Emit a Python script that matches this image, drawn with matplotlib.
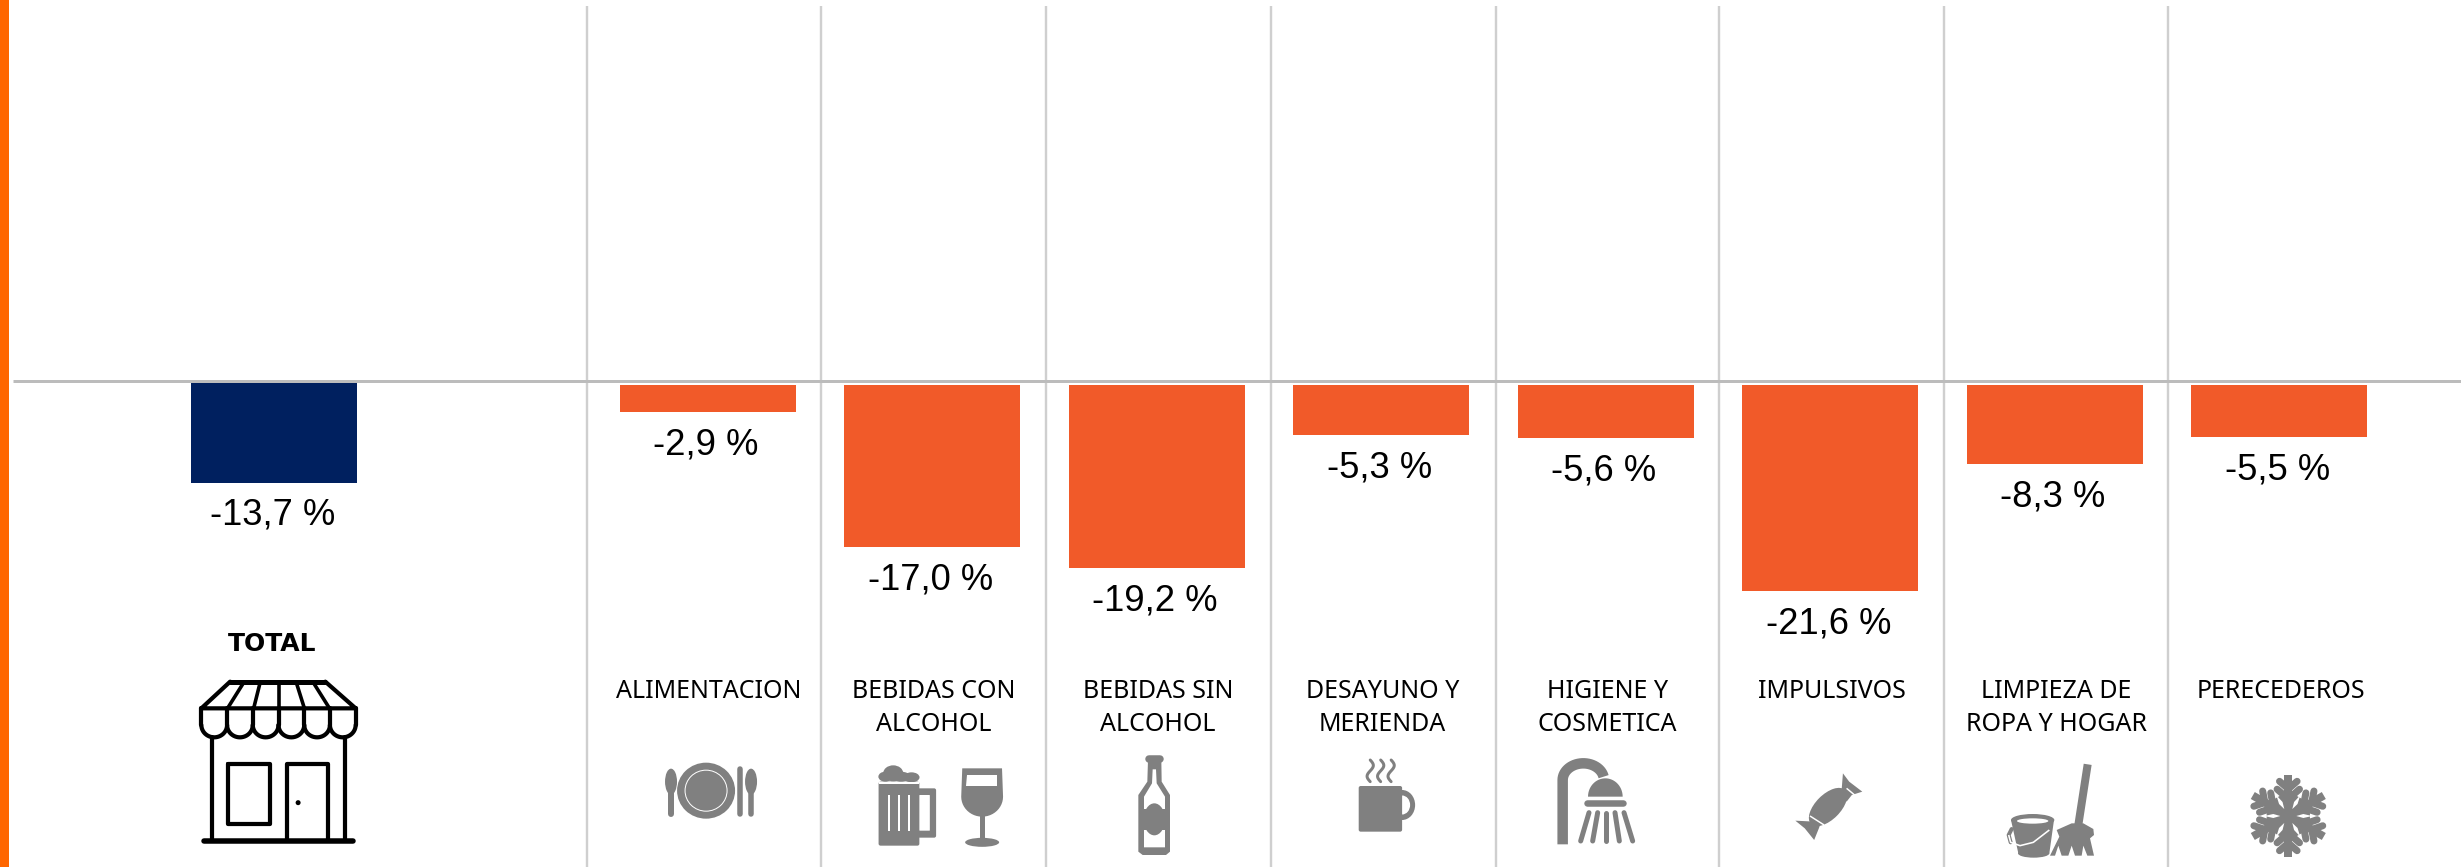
import numpy as np
import matplotlib
matplotlib.use('Agg')
import matplotlib.pyplot as plt
from matplotlib.patches import Ellipse, Polygon, Rectangle, FancyBboxPatch

# values
categories = ['ALIMENTACION', 'BEBIDAS CON\nALCOHOL', 'BEBIDAS SIN\nALCOHOL', 'DESAYUNO Y\nMERIENDA',
              'HIGIENE Y\nCOSMETICA', 'IMPULSIVOS', 'LIMPIEZA DE\nROPA Y HOGAR', 'PERECEDEROS']
values = [-2.9, -17.0, -19.2, -5.3, -5.6, -21.6, -8.3, -5.5]
total_label = ['TOTAL']
total_value = [-13.7]

W, H = 2461, 867
ORANGE = '#F15A29'
NAVY = '#00205F'
GREY = '#808080'
PX = 0.72  # px to pt at dpi 100


def axes_px(fig, x0, x1, y0, y1):
    return fig.add_axes([x0 / W, 1 - y1 / H, (x1 - x0) / W, (y1 - y0) / H])


def fmt(v):
    return f'{v:.1f} %'.replace('.', ',')


fig = plt.figure(figsize=(W / 100, H / 100), dpi=100)

# overlay in pixel coordinates, for the frame lines and the icons
bg = axes_px(fig, 0, W, 0, H)
bg.set_xlim(0, W)
bg.set_ylim(H, 0)
bg.axis('off')

bg.add_patch(Rectangle((0, 0), 9, H, color='#FF6600', lw=0))
for x in [587, 821, 1046, 1271, 1496, 1718.5, 1944, 2168]:
    bg.plot([x, x], [6, H], color='#cfcfcf', lw=2.4 * PX, solid_capstyle='butt')
bg.plot([13, W], [381, 381], color='#bcbcbc', lw=3 * PX, solid_capstyle='butt')

# category bars
ax = axes_px(fig, 707.5 - 112.25, 707.5 + 224.5 * 7 + 112.25, 384.7, H)
ax.set_xlim(-0.5, 7.5)
ax.set_ylim(-(H - 384.7) / 9.56, 0)
ax.axis('off')
ax.patch.set_alpha(0)
x_pos = np.arange(len(categories))
ax.bar(x_pos, values, width=176 / 224.5, color=ORANGE)
for i, v in zip(x_pos, values):
    ax.annotate(fmt(v), (i, v), xytext=(-1.2, -42.5 * PX), textcoords='offset points', ha='center', va='baseline',
                fontsize=26.2, family='Liberation Sans', color='black')
for i, c in zip(x_pos, categories):
    for j, line in enumerate(c.split('\n')):
        ax.annotate(line, (i, 0), xytext=(1.2, -(698.5 - 384.7 + 32.7 * j) * PX), textcoords='offset points',
                    ha='center', va='baseline', fontsize=18, family='Noto Sans', color='black')

# total bar has its own scale
ax2 = axes_px(fig, 274 - 112.25, 274 + 112.25, 383, H)
ax2.set_xlim(-0.5, 0.5)
ax2.set_ylim(-(H - 383) / 7.3, 0)
ax2.axis('off')
ax2.patch.set_alpha(0)
ax2.bar([0], total_value, width=166 / 224.5, color=NAVY)
ax2.annotate(fmt(total_value[0]), (0, total_value[0]), xytext=(-1.2, -41.5 * PX), textcoords='offset points',
             ha='center', va='baseline', fontsize=26.2, family='Liberation Sans', color='black')
ax2.annotate(total_label[0], (0, 0), xytext=(-1, -(651 - 383) * PX), textcoords='offset points',
             ha='center', va='baseline', fontsize=18, family='DejaVu Sans', weight='bold', color='black')


def Z(x0, pts):
    return [(x0 + p[0] / 1.912, 360 + p[1] / 3) for p in pts]


def zline(x0, pts, color=GREY, lw=4, cap='round', z=5):
    p = np.array(Z(x0, pts))
    bg.plot(p[:, 0], p[:, 1], color=color, lw=lw * PX, solid_capstyle=cap, solid_joinstyle='round', zorder=z)


def zpoly(x0, pts, color=GREY, z=5):
    bg.add_patch(Polygon(Z(x0, pts), closed=True, color=color, lw=0, zorder=z))


def zell(x0, c, rx, ry, color=GREY, z=5, angle=0):
    cx, cy = Z(x0, [c])[0]
    bg.add_patch(Ellipse((cx, cy), 2 * rx, 2 * ry, angle=angle, color=color, lw=0, zorder=z))


def zrect(x0, a, b, color=GREY, z=5, r=2):
    (x1, y1), (x2, y2) = Z(x0, [a, b])
    bg.add_patch(FancyBboxPatch((x1 + r, y1 + r), x2 - x1 - 2 * r, y2 - y1 - 2 * r,
                                boxstyle=f'round,pad={r},rounding_size={r}', color=color, lw=0, zorder=z))


# same helpers for the plain 3x crops
def C(x0, y0, pts):
    return [(x0 + p[0] / 3, y0 + p[1] / 3) for p in pts]


def cline(x0, y0, pts, color=GREY, lw=5, cap='round', z=5):
    p = np.array(C(x0, y0, pts))
    bg.plot(p[:, 0], p[:, 1], color=color, lw=lw * PX, solid_capstyle=cap, solid_joinstyle='round', zorder=z)


def cpoly(x0, y0, pts, color=GREY, z=5):
    bg.add_patch(Polygon(C(x0, y0, pts), closed=True, color=color, lw=0, zorder=z))


def cell(x0, y0, c, rx, ry, color=GREY, z=5):
    cx, cy = C(x0, y0, [c])[0]
    bg.add_patch(Ellipse((cx, cy), 2 * rx / 3, 2 * ry / 3, color=color, lw=0, zorder=z))


# shop
K = 'black'
zline(0, [(440, 965), (622, 965)], K, 5)
zline(0, [(440, 965), (385, 1045), (680, 1045), (622, 965)], K, 4.2)
for a, b in zip([465, 497, 533, 567, 600], [435, 485, 533, 582, 630]):
    zline(0, [(a, 970), (b, 1045)], K, 3.6)
edges = np.linspace(385, 680, 7)
for a, b in zip(edges[:-1], edges[1:]):
    t = np.linspace(0, np.pi, 25)
    zline(0, list(zip((a + b) / 2 - (b - a) / 2 * np.cos(t), 1095 + 37 * np.sin(t))), K, 4.2)
    zline(0, [(a, 1045), (a, 1095)], K, 4.2)
zline(0, [(680, 1045), (680, 1095)], K, 4.2)
zline(0, [(405, 1130), (405, 1442)], K, 4.2)
zline(0, [(660, 1130), (660, 1442)], K, 4.2)
zline(0, [(390, 1442), (675, 1442)], K, 5.5)
zline(0, [(436, 1212), (517, 1212), (517, 1392), (436, 1392), (436, 1212)], K, 4.2)
zline(0, [(548, 1442), (548, 1212), (628, 1212), (628, 1442)], K, 4.2)
zell(0, (570, 1328), 2.5, 2.5, K)

# plate and cutlery
zell(0, (1350, 1292), 29, 28)
zell(0, (1350, 1292), 21.5, 21, 'white', 6)
zell(0, (1350, 1292), 20.5, 20, GREY, 7)
zell(0, (1283, 1265), 6, 13)
zline(0, [(1283, 1280), (1283, 1362)], GREY, 6)
zline(0, [(1415, 1228), (1415, 1362)], GREY, 5.5)
zell(0, (1436, 1265), 6, 13)
zline(0, [(1436, 1280), (1436, 1362)], GREY, 5.5)

# beer and wine
X = 820
zrect(X, (112, 1265), (190, 1457))
for c, rx, ry in [((140, 1240), 10, 8), ((125, 1250), 7, 5), ((175, 1252), 8, 5), ((155, 1250), 9, 5)]:
    zell(X, c, rx, ry)
zline(X, [(112, 1268), (190, 1268)], 'white', 2, 'butt', 6)
zrect(X, (185, 1285), (222, 1433))
zrect(X, (190, 1305), (210, 1412), 'white', 6, 0.5)
for x in [131, 151, 171]:
    zline(X, [(x, 1305), (x, 1412)], 'white', 2, 'butt', 6)
t = np.linspace(0, np.pi, 25)
bowl = [(272, 1225), (348, 1225)] + list(zip(310 + 40 * np.cos(t), 1310 + 60 * np.sin(t))) + [(272, 1225)]
zpoly(X, bowl)
zpoly(X, [(282, 1245), (338, 1245), (338, 1278), (280, 1278)], 'white', 6)
zline(X, [(310, 1360), (310, 1440)], GREY, 5)
zell(X, (310, 1447), 17, 4.5)

# bottle
bx, by = 1120, 740
cline(bx, by, [(88, 56), (120, 56)], GREY, 7.5)
cpoly(bx, by, [(84, 60), (124, 60), (125, 125), (150, 165), (150, 335), (138, 345), (68, 345), (55, 335), (55, 165),
               (82, 125)])
cpoly(bx, by, [(98, 88), (108, 88), (110, 130), (135, 170), (135, 322), (72, 322), (72, 170), (96, 130)], 'white', 6)
cpoly(bx, by, [(60, 208), (145, 208), (145, 270), (60, 270)], GREY, 7)
cell(bx, by, (103, 238), 32, 48, GREY, 7)

# cup
zell(X, (1113, 1335), 13, 15)
zell(X, (1113, 1335), 8, 9.5, 'white', 5.5)
zrect(X, (1030, 1278), (1113, 1415), GREY, 6)
for x in [1052, 1072, 1092]:
    t = np.linspace(0, 1, 25)
    zline(X, list(zip(x + 6 * np.sin(t * 2 * np.pi), 1200 + 65 * t)), GREY, 3)

# shower
sx, sy = 1540, 745
t = np.linspace(np.pi, 0.2, 30)
cline(sx, sy, [(68, 298)] + list(zip(130 + 62 * np.cos(t), 105 - 50 * np.sin(t))), GREY, 10.5, 'butt')
t = np.linspace(0, np.pi, 30)
cpoly(sx, sy, list(zip(196 + 52 * np.cos(t), 155 - 55 * np.sin(t))))
cline(sx, sy, [(140, 175), (250, 175)], GREY, 6.5)
for a, b in [(147, 122), (173, 158), (198, 198), (225, 238), (252, 278)]:
    cline(sx, sy, [(a, 203), (b, 288)], GREY, 5)

# candy
X = 1640
bg.add_patch(Ellipse((1828, 807), 48, 25, angle=-45, color=GREY, lw=0, zorder=6))
zpoly(X, [(385, 1300), (388, 1240), (400, 1265), (425, 1295), (405, 1305), (395, 1325)])
zpoly(X, [(335, 1385), (297, 1382), (315, 1405), (333, 1440), (342, 1405), (350, 1370)])
zline(X, [(395, 1285), (418, 1315)], 'white', 1.5, 'butt', 5.5)
zline(X, [(325, 1368), (352, 1395)], 'white', 1.5, 'butt', 6.5)

# bucket and mop
mx, my = 2000, 755
cell(mx, my, (98, 195), 65, 18)
cpoly(mx, my, [(33, 195), (162, 195), (148, 295), (55, 295)])
cell(mx, my, (101, 295), 47, 13)
cell(mx, my, (98, 198), 47, 8, 'white', 6)
handle = [(35, 222), (26, 240), (32, 262), (60, 272), (100, 262), (148, 225)]
cline(mx, my, handle[:3], GREY, 4, 'round', 5)
cline(mx, my, handle[1:], 'white', 1.6, 'butt', 6)
cline(mx, my, [(263, 28), (235, 210)], GREY, 8, 'butt')
cpoly(mx, my, [(215, 205), (250, 205), (280, 222), (282, 240), (270, 250), (282, 302), (262, 302), (250, 272),
               (245, 302), (225, 302), (215, 272), (205, 302), (185, 302), (175, 272), (165, 302), (150, 302),
               (178, 245), (170, 225)])

# snowflake
c = np.array([2288.3, 816.0])
hexa = [c + 25 * np.array([np.cos(a), np.sin(a)]) for a in np.deg2rad(np.arange(0, 360, 60) + 30)]
bg.add_patch(Polygon(hexa, closed=True, color=GREY, lw=0, zorder=5))
for ang in np.deg2rad(np.arange(0, 360, 60) + 90):
    d = np.array([np.cos(ang), np.sin(ang)])
    n = np.array([-d[1], d[0]])
    end = c + 37 * d
    bg.plot([c[0], end[0]], [c[1], end[1]], color=GREY, lw=8 * PX, zorder=5)
    for r, l in [(17, 14), (27, 11)]:
        base = c + r * d
        for s in [-1, 1]:
            tip = base + l * (d * 0.7 + s * n * 0.8)
            bg.plot([base[0], tip[0]], [base[1], tip[1]], color=GREY, lw=7 * PX, solid_capstyle='round', zorder=5)
for ang in np.deg2rad(np.arange(0, 360, 60)):
    d = np.array([np.cos(ang), np.sin(ang)])
    n = np.array([-d[1], d[0]])
    slit = [c + 8 * d, c + 15 * d + 2 * n, c + 24 * d, c + 15 * d - 2 * n]
    bg.add_patch(Polygon(slit, closed=True, color='white', lw=0, zorder=6))

fig.savefig('out.png', dpi=100, facecolor='white')
